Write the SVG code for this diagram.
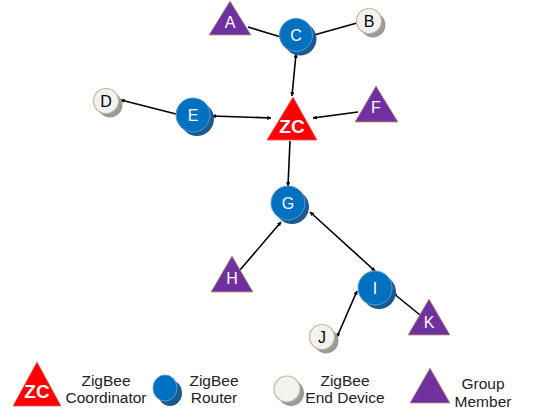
<svg xmlns="http://www.w3.org/2000/svg" width="553" height="417" viewBox="0 0 553 417">
<style>
.tri{fill:#7030A0;stroke:#B89A70;stroke-width:0.8}
.zc{fill:#FF0000;stroke:#E06060;stroke-width:0.8}
.rt{fill:#0070C0;stroke:#5A9BD0;stroke-width:1}
.rts{fill:#1A5A8E}
.ed{fill:#F2F2F2;stroke:#C8B490;stroke-width:1.2}
.eds{fill:#9A9A9A}
.wl{font-family:"Liberation Sans",Arial,sans-serif;font-size:16px;fill:#FFFFFF;text-anchor:middle}
.bl{font-family:"Liberation Sans",Arial,sans-serif;font-size:16px;fill:#000000;text-anchor:middle}
.zct{font-family:"Liberation Sans",Arial,sans-serif;font-size:19px;font-weight:bold;fill:#FFFFFF;text-anchor:middle}
.lg{font-family:"Liberation Sans",Arial,sans-serif;font-size:15.5px;fill:#222;text-anchor:middle}
.ln{stroke:#000;stroke-width:1.6;fill:none}
</style>
<defs>
<marker id="ah" viewBox="0 0 10 10" refX="9" refY="5" markerWidth="2.6" markerHeight="2.6" orient="auto-start-reverse">
<path d="M0,0 L10,5 L0,10 z" fill="#000"/>
</marker>
</defs>
<rect width="553" height="417" fill="#FFFFFF"/>
<g id="connectors">
<line class="ln" x1="248" y1="27" x2="281" y2="37"/>
<line class="ln" x1="357" y1="23" x2="314" y2="35"/>
<line class="ln" x1="296" y1="54" x2="292" y2="96" marker-start="url(#ah)" marker-end="url(#ah)"/>
<line class="ln" x1="176" y1="114" x2="121" y2="100" marker-end="url(#ah)"/>
<line class="ln" x1="212" y1="116" x2="271" y2="118" marker-start="url(#ah)" marker-end="url(#ah)"/>
<line class="ln" x1="358" y1="112" x2="313" y2="118" marker-end="url(#ah)"/>
<line class="ln" x1="290" y1="141" x2="288" y2="186" marker-end="url(#ah)"/>
<line class="ln" x1="240" y1="270" x2="281" y2="222" marker-end="url(#ah)"/>
<line class="ln" x1="310" y1="212" x2="375" y2="271" marker-start="url(#ah)" marker-end="url(#ah)"/>
<line class="ln" x1="357" y1="291" x2="337" y2="337" marker-start="url(#ah)" marker-end="url(#ah)"/>
<line class="ln" x1="420" y1="315" x2="393" y2="293" marker-end="url(#ah)"/>
</g>
<g id="node-A"><polygon class="tri" points="230,1 209,35 251,35"/><text class="wl" x="230" y="28">A</text></g>
<g id="node-C"><circle class="rts" cx="300" cy="39" r="16.5"/><circle class="rt" cx="296" cy="35" r="16.5"/><text class="wl" x="296" y="41">C</text></g>
<g id="node-B"><circle class="eds" cx="373" cy="25" r="12.5"/><circle class="ed" cx="369" cy="21" r="12.5"/><text class="bl" x="369" y="27">B</text></g>
<g id="node-D"><circle class="eds" cx="110" cy="105" r="12.5"/><circle class="ed" cx="106" cy="101" r="12.5"/><text class="bl" x="106" y="107">D</text></g>
<g id="node-E"><circle class="rts" cx="197" cy="119" r="17"/><circle class="rt" cx="193" cy="115" r="17"/><text class="wl" x="193" y="121">E</text></g>
<g id="node-ZC"><polygon class="zc" points="293,97 267,140 317,140"/><text class="zct" x="292" y="133">ZC</text></g>
<g id="node-F"><polygon class="tri" points="376,86 355,122 398,122"/><text class="wl" x="376" y="113">F</text></g>
<g id="node-G"><circle class="rts" cx="292" cy="207" r="17"/><circle class="rt" cx="288" cy="203" r="17"/><text class="wl" x="288" y="209">G</text></g>
<g id="node-H"><polygon class="tri" points="232,256 211,292 253,292"/><text class="wl" x="232" y="284">H</text></g>
<g id="node-I"><circle class="rts" cx="379" cy="292" r="17"/><circle class="rt" cx="375" cy="288" r="17"/><text class="wl" x="375" y="294">I</text></g>
<g id="node-J"><circle class="eds" cx="326" cy="341" r="12.5"/><circle class="ed" cx="322" cy="337" r="12.5"/><text class="bl" x="322" y="343">J</text></g>
<g id="node-K"><polygon class="tri" points="429,299 408,335 450,335"/><text class="wl" x="429" y="328">K</text></g>
<g id="legend">
<g id="legend-zc"><polygon class="zc" points="37,362 13,406 61,406"/><text class="zct" x="37" y="398">ZC</text>
<text class="lg" x="106" y="386">ZigBee</text><text class="lg" x="106" y="403">Coordinator</text></g>
<g id="legend-router"><ellipse class="rts" cx="170" cy="393" rx="12" ry="13"/><ellipse class="rt" cx="165" cy="388" rx="12" ry="13"/>
<text class="lg" x="214" y="386">ZigBee</text><text class="lg" x="214" y="403">Router</text></g>
<g id="legend-ed"><ellipse class="eds" cx="291" cy="393" rx="13" ry="13"/><ellipse class="ed" cx="287" cy="389" rx="13" ry="13"/>
<text class="lg" x="345" y="386">ZigBee</text><text class="lg" x="345" y="403">End Device</text></g>
<g id="legend-gm"><polygon class="tri" points="430,368 410,403 450,403"/>
<text class="lg" x="483" y="389">Group</text><text class="lg" x="483" y="407">Member</text></g>
</g>
</svg>
